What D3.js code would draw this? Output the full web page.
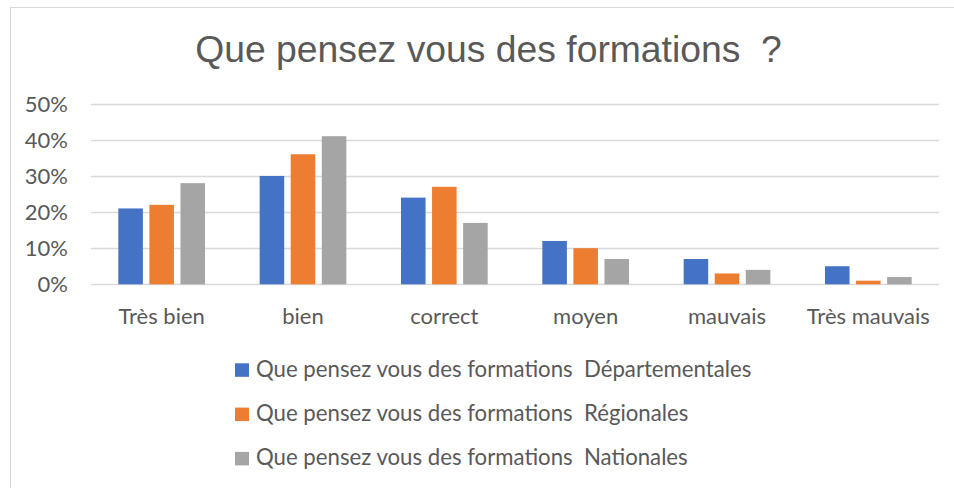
<!DOCTYPE html>
<html>
<head>
<meta charset="utf-8">
<script src="https://cdn.jsdelivr.net/npm/d3@7"></script>
<style>
  body { margin: 0; background: #fff; }
  svg { display: block; }
  text { fill: #595959; }
</style>
</head>
<body>
<svg width="954" height="488"></svg>
<script>
var categories = ["Très bien", "bien", "correct", "moyen", "mauvais", "Très mauvais"],
    seriesNames = [
        "Que pensez vous des formations  Départementales",
        "Que pensez vous des formations  Régionales",
        "Que pensez vous des formations  Nationales"
    ],
    departementales = [0.21, 0.30, 0.24, 0.12, 0.07, 0.05],
    regionales = [0.22, 0.36, 0.27, 0.10, 0.03, 0.01],
    nationales = [0.28, 0.41, 0.17, 0.07, 0.04, 0.02],
    yTicks = [0, 0.1, 0.2, 0.3, 0.4, 0.5],
    colors = ["#4472c4", "#ed7d31", "#a5a5a5"];

var seriesValues = [departementales, regionales, nationales];

var svg = d3.select("svg"),
    plotLeft = 91, plotRight = 939, plotTop = 103.7, plotBottom = 284.3,
    labelFont = "Lato, 'Open Sans', sans-serif";

// chart border
svg.append("rect")
    .attr("x", 10.5).attr("y", 7.5)
    .attr("width", 1000).attr("height", 1000)
    .attr("fill", "none").attr("stroke", "#d9d9d9");

// title
svg.append("text")
    .attr("x", 488.5).attr("y", 62)
    .attr("text-anchor", "middle")
    .style("font-family", "'Liberation Sans', Arial, sans-serif")
    .style("font-size", "37.3px")
    .style("white-space", "pre")
    .text("Que pensez vous des formations  ?");

var x0 = d3.scaleBand().domain(categories).range([plotLeft, plotRight]).paddingInner(0.3866).paddingOuter(0.1933),
    x1 = d3.scaleBand().domain(d3.range(seriesNames.length)).range([0, x0.bandwidth()]).paddingInner(0.21),
    y = d3.scaleLinear().domain([0, 0.5]).range([plotBottom, plotTop]);

// gridlines
svg.append("g")
    .selectAll("line")
    .data(yTicks)
    .join("line")
        .attr("x1", plotLeft).attr("x2", plotRight)
        .attr("y1", function(d) { return Math.round(y(d)) + 0.5; })
        .attr("y2", function(d) { return Math.round(y(d)) + 0.5; })
        .attr("stroke", "#d9d9d9")
        .attr("stroke-width", 1.3);

// y tick labels
svg.append("g")
    .selectAll("text")
    .data(yTicks)
    .join("text")
        .attr("x", 68)
        .attr("y", function(d) { return y(d); })
        .attr("dy", "0.36em")
        .attr("text-anchor", "end")
        .style("font-family", labelFont)
        .style("font-size", "22px")
        .text(d3.format(".0%"));

// bars
var groups = svg.append("g")
    .selectAll("g")
    .data(categories)
    .join("g")
        .attr("transform", function(d) { return "translate(" + x0(d) + ",0)"; });

groups.selectAll("rect")
    .data(function(d, i) {
        return seriesValues.map(function(vals, s) { return {s: s, v: vals[i]}; });
    })
    .join("rect")
        .attr("x", function(d) { return x1(d.s); })
        .attr("width", x1.bandwidth())
        .attr("y", function(d) { return y(d.v); })
        .attr("height", function(d) { return y(0) - y(d.v); })
        .attr("fill", function(d) { return colors[d.s]; });

// category labels
svg.append("g")
    .selectAll("text")
    .data(categories)
    .join("text")
        .attr("x", function(d) { return x0(d) + x0.bandwidth() / 2; })
        .attr("y", 323.5)
        .attr("text-anchor", "middle")
        .style("font-family", labelFont)
        .style("font-size", "22px")
        .text(function(d) { return d; });

// legend
var legend = svg.append("g")
    .selectAll("g")
    .data(seriesNames)
    .join("g")
        .attr("transform", function(d, i) { return "translate(235," + (363.3 + i * 44.3) + ")"; });

legend.append("rect")
    .attr("width", 14).attr("height", 13.5)
    .attr("fill", function(d, i) { return colors[i]; });

legend.append("text")
    .attr("x", 21).attr("y", 13.4)
    .style("font-family", labelFont)
    .style("font-size", "22.2px")
    .style("white-space", "pre")
    .text(function(d) { return d; });
</script>
</body>
</html>
